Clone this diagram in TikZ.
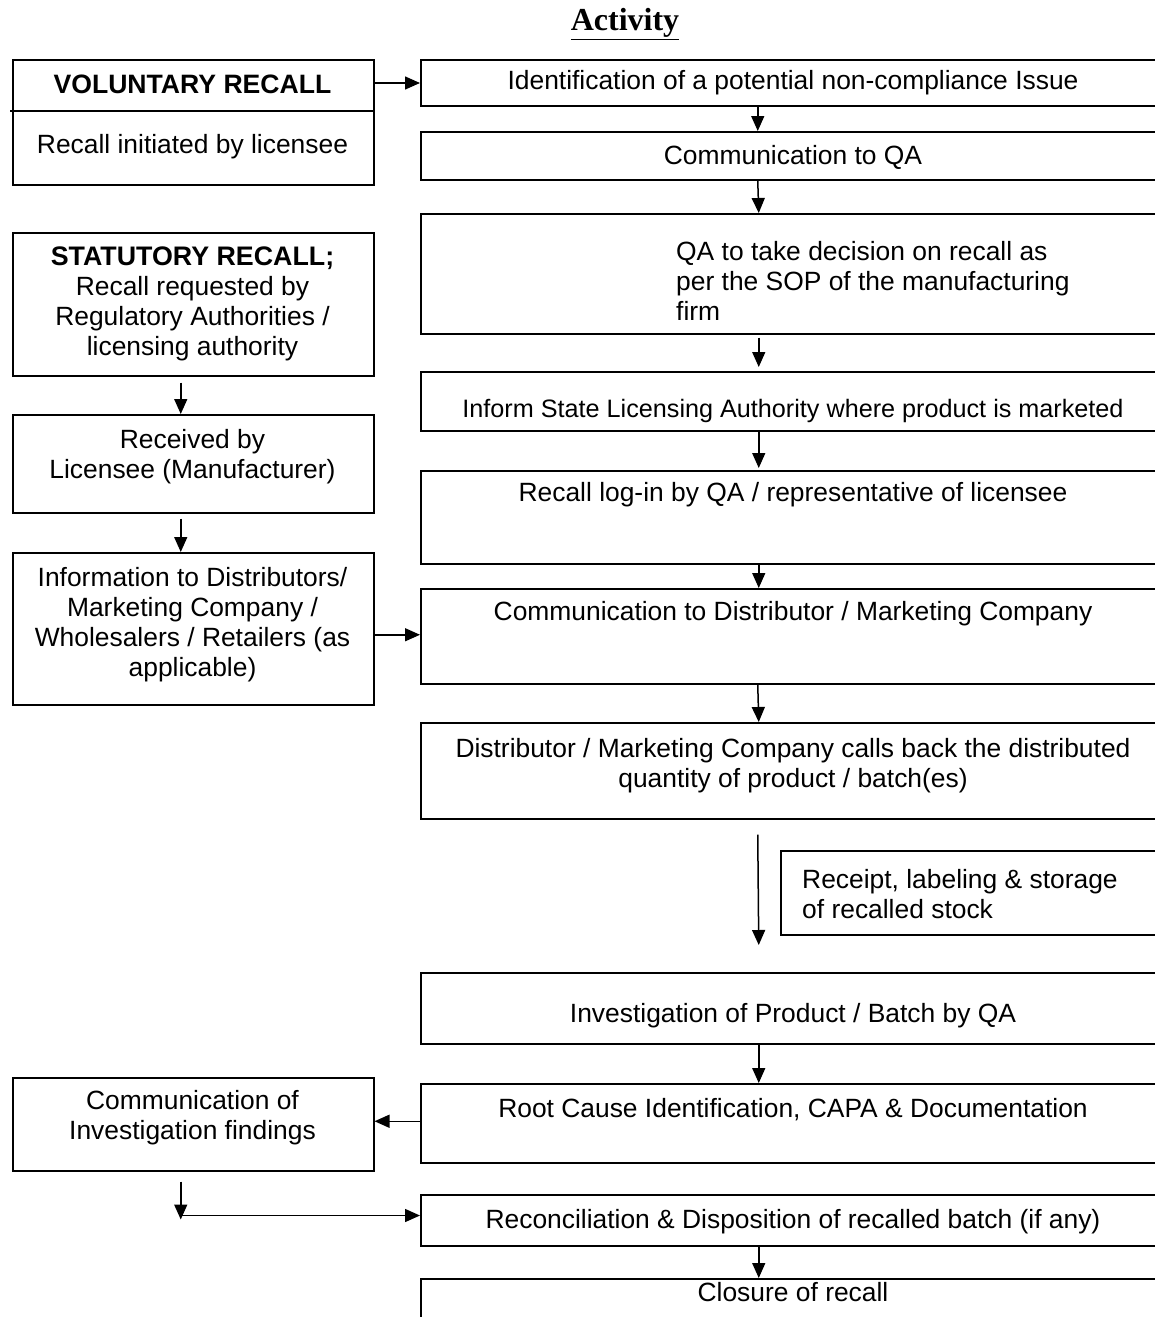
\documentclass[tikz,border=0pt]{standalone}
\usepackage{fontspec}
\setmainfont{Liberation Sans}
\newfontfamily\titlefont{Liberation Serif}
\usetikzlibrary{arrows.meta}
\tikzset{
  box/.style={draw, line width=1.5pt, anchor=north west, inner sep=0pt},
  txt/.style={font=\fontsize{26.4}{30}\selectfont, align=center, inner sep=0pt},
  arr/.style={line width=1.5pt, -{Triangle[length=15pt,width=13pt]}},
}
\begin{document}
\begin{tikzpicture}[x=1pt,y=-1pt]
\clip (0,0) rectangle (1155,1317);
\fill[white] (0,0) rectangle (1155,1317);
% title
\node[font=\titlefont\bfseries\fontsize{32}{38}\selectfont, inner sep=0pt] (title) at (625,24) {\underline{Activity}};
% left column
\node[box, minimum width=361pt, minimum height=125pt] (vol) at (12,59) {};
\draw[line width=1.5pt] ([xshift=-2pt,yshift=-52pt]vol.north west) -- ([yshift=-52pt]vol.north east);
\node[txt, font=\fontsize{26.6}{30}\selectfont\bfseries] (volt) at (192.5,84) {VOLUNTARY RECALL};
\node[txt] (volb) at (192.5,147) {Recall initiated by licensee};

\node[box, minimum width=361pt, minimum height=143pt] (stat) at (12,232) {};
\node[txt] (statt) at (192.5,304) {{\bfseries\fontsize{26.8}{30}\selectfont STATUTORY RECALL;}\\Recall requested by\\Regulatory Authorities /\\licensing authority};

\node[box, minimum width=361pt, minimum height=98pt] (recv) at (12,414) {};
\node[txt] (recvt) at (192.5,457) {Received by\\Licensee (Manufacturer)};

\node[box, minimum width=361pt, minimum height=152pt] (info) at (12,552) {};
\node[txt] (infot) at (192.5,625) {Information to Distributors/\\Marketing Company /\\Wholesalers / Retailers (as\\applicable)};

\node[box, minimum width=361pt, minimum height=93pt] (cinv) at (12,1077) {};
\node[txt] (cinvt) at (192.5,1118) {Communication of\\Investigation findings};

% right column
\node[box, minimum width=746pt, minimum height=46pt] (ident) at (420,59) {};
\node[txt] (identt) at (793,83) {Identification of a potential non-compliance Issue};

\node[box, minimum width=746pt, minimum height=48pt] (cqa) at (420,131) {};
\node[txt] (cqat) at (793,157) {Communication to QA};

\node[box, minimum width=746pt, minimum height=120pt] (qa) at (420,213) {};
\node[txt, align=left, anchor=west] (qat) at (676,281) {QA to take decision on recall as\\per the SOP of the manufacturing\\firm};

\node[box, minimum width=746pt, minimum height=59pt] (inform) at (420,371) {};
\node[txt, font=\fontsize{25.2}{30}\selectfont] (informt) at (793,411) {Inform State Licensing Authority where product is marketed};

\node[box, minimum width=746pt, minimum height=93pt] (login) at (420,470) {};
\node[txt] (logint) at (793,495) {Recall log-in by QA / representative of licensee};

\node[box, minimum width=746pt, minimum height=95pt] (cdist) at (420,588) {};
\node[txt] (cdistt) at (793,614) {Communication to Distributor / Marketing Company};

\node[box, minimum width=746pt, minimum height=96pt] (dist) at (420,722) {};
\node[txt] (distt) at (793,766) {Distributor / Marketing Company calls back the distributed\\quantity of product / batch(es)};

\node[box, minimum width=386pt, minimum height=84pt] (rcpt) at (780,850) {};
\node[txt, align=left, anchor=west] (rcptt) at (802,894) {Receipt, labeling \& storage\\of recalled stock};

\node[box, minimum width=746pt, minimum height=71pt] (invest) at (420,972) {};
\node[txt] (investt) at (793,1016) {Investigation of Product / Batch by QA};

\node[box, minimum width=746pt, minimum height=79pt] (root) at (420,1083) {};
\node[txt] (roott) at (793,1110) {Root Cause Identification, CAPA \& Documentation};

\node[box, minimum width=746pt, minimum height=51pt] (recon) at (420,1194) {};
\node[txt] (recont) at (793,1222) {Reconciliation \& Disposition of recalled batch (if any)};

\node[box, minimum width=746pt, minimum height=80pt] (close) at (420,1278) {};
\node[txt] (closet) at (793,1292) {Closure of recall};

% connectors
\draw[arr] ([yshift=-24pt]vol.north east) -- ([yshift=-24pt]ident.north west);
\draw[arr] ([xshift=-36pt]ident.south) -- ([xshift=-36pt]cqa.north);
\draw[arr] ([xshift=-36pt]cqa.south) -- ([xshift=-35pt]qa.north);
\draw[arr] ([xshift=-35pt,yshift=-3pt]qa.south) -- ([xshift=-35pt,yshift=4pt]inform.north);
\draw[arr] ([xshift=-35pt]inform.south) -- ([xshift=-35pt,yshift=2pt]login.north);
\draw[arr] ([xshift=-35pt]login.south) -- ([xshift=-35pt]cdist.north);
\draw[arr] ([xshift=-36pt]cdist.south) -- ([xshift=-35pt]dist.north);
\draw[arr] ([xshift=-36pt,yshift=-15pt]dist.south) -- ([xshift=-35pt,yshift=27pt]invest.north);
\draw[arr] ([xshift=-35pt]invest.south) -- ([xshift=-35pt]root.north);
\draw[arr] ([xshift=-35pt]recon.south) -- ([xshift=-35pt]close.north);

\draw[arr] ([xshift=-12.5pt,yshift=-6pt]stat.south) -- ([xshift=-12.5pt]recv.north);
\draw[arr] ([xshift=-12.5pt,yshift=-5pt]recv.south) -- ([xshift=-12.5pt]info.north);
\draw[arr] ([yshift=-6pt]info.east) -- ([yshift=-6pt]info.east -| cdist.west);
\draw[arr] ([yshift=3pt]cinv.east -| root.west) -- ([yshift=3pt]cinv.east);

\coordinate (j) at ([xshift=-12.5pt,yshift=-44pt]cinv.south);
\draw[arr] ([xshift=-12.5pt,yshift=-10pt]cinv.south) -- ([yshift=-4pt]j);
\draw[arr] (j) -- (j -| recon.west);
\end{tikzpicture}
\end{document}
